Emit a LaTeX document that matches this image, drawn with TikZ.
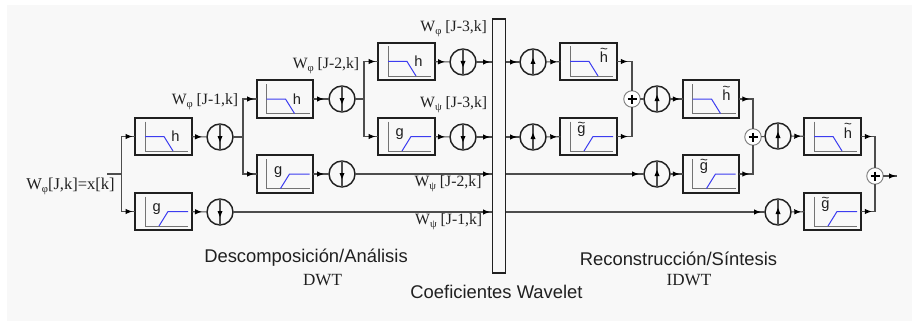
\documentclass[tikz,border=0pt]{standalone}
\usepackage{fontspec}
\setmainfont{Liberation Serif}
\setsansfont{Liberation Sans}
\usetikzlibrary{arrows.meta,decorations.markings}
\definecolor{panel}{HTML}{F8F8F8}
\definecolor{filt}{HTML}{3C3CF0}
\definecolor{ink}{HTML}{202020}
\tikzset{
  filterbox/.style={draw=ink,line width=1.3pt,minimum width=56.5*0.75pt,minimum height=37.5*0.75pt,inner sep=0pt,outer sep=0pt,rectangle},
  sampler/.style={draw=ink,line width=1.1pt,circle,minimum size=26*0.75pt,inner sep=0pt,outer sep=0pt},
  adder/.style={draw=gray,line width=0.7pt,circle,fill=white,minimum size=16.5*0.75pt,inner sep=0pt,outer sep=0pt},
  conn/.style={draw=ink!80!white,line width=0.8pt},
  gaparrow/.style={conn,postaction={decorate},decoration={markings,mark=at position -#1*0.75pt with {\arrow{Latex[length=7*0.75pt,width=5.5*0.75pt,black]}}}},
  gaparrow/.default=4,
  startarrow/.style={conn,postaction={decorate},decoration={markings,mark=at position #1*0.75pt with {\arrow{Latex[length=7*0.75pt,width=5.5*0.75pt,black]}}}},
  axisline/.style={draw=gray!90!black,line width=0.75pt},
  bluepath/.style={draw=filt,line width=0.75pt},
  wlabel/.style={font=\fontsize{11.8}{12}\selectfont,inner sep=0pt,text=ink},
  titlelabel/.style={font=\sffamily\fontsize{13.8}{14}\selectfont,inner sep=0pt,text=ink},
  dwtlabel/.style={font=\fontsize{12.8}{13}\selectfont,inner sep=0pt,text=ink},
  filtlabel/.style={font=\sffamily\fontsize{11}{12}\selectfont,inner sep=0pt,text=ink,anchor=base}
}
% #1 node name, #2 centre x, #3 centre y, #4 letter x offset, #5 letter baseline offset, #6 letter
\newcommand{\lowf}[6]{%
  \node[filterbox] (#1) at (#2,#3) {};
  \draw[axisline] (#2-18.5,#3-15) -- (#2-18.5,#3+14.5) -- (#2+24.5,#3+14.5);
  \draw[bluepath] (#2-18.5,#3) -- (#2+0.5,#3) -- (#2+9.5,#3+14.5);
  \node[filtlabel] (#1l) at (#2+#4,#3+#5) {#6};
}
\newcommand{\highf}[6]{%
  \node[filterbox] (#1) at (#2,#3) {};
  \draw[axisline] (#2-18.5,#3-15) -- (#2-18.5,#3+14.5) -- (#2+24.5,#3+14.5);
  \draw[bluepath] (#2-4.5,#3+14.5) -- (#2+4.5,#3) -- (#2+24.5,#3);
  \node[filtlabel] (#1l) at (#2+#4,#3+#5) {#6};
}
\newcommand{\dnc}[3]{%
  \node[sampler] (#1) at (#2,#3) {};
  \draw[conn] (#1.north) -- (#1.south);
  \fill[black] (#2-2.5,#3-1) -- (#2+2.5,#3-1) -- (#2,#3+5) -- cycle;
}
\newcommand{\upc}[3]{%
  \node[sampler] (#1) at (#2,#3) {};
  \draw[conn] (#1.north) -- (#1.south);
  \fill[black] (#2-2.5,#3+2) -- (#2+2.5,#3+2) -- (#2,#3-4) -- cycle;
}
\newcommand{\addc}[3]{%
  \node[adder] (#1) at (#2,#3) {};
  \draw[black,line width=1pt] (#2-4.5,#3) -- (#2+4.5,#3) (#2,#3-4.5) -- (#2,#3+4.5);
}
\newcommand{\WP}[1]{W\raisebox{-2.4pt}{\fontsize{8}{8}\selectfont φ}#1}
\newcommand{\WS}[1]{W\raisebox{-2.4pt}{\fontsize{8}{8}\selectfont ψ}#1}
\newcommand{\tld}[2]{\setbox0=\hbox{#2}\rlap{\hbox to \wd0{\hss\raisebox{#1}{\fontsize{10}{10}\selectfont\char"007E}\hss}}\box0}
\begin{document}
\begin{tikzpicture}[x=0.75pt,y=-0.75pt]
\useasboundingbox (0,0) rectangle (912,321);
\fill[white] (0,0) rectangle (912,321);
\fill[panel] (7,5) rectangle (912,321);

% analysis
\lowf{ha}{163.5}{136.5}{12}{5}{h}
\highf{ga}{163.5}{211.5}{-6.8}{0}{g}
\dnc{da}{220}{137}
\dnc{db}{220}{212}
\lowf{hb}{285}{99}{12}{5}{h}
\highf{gb}{285}{174}{-6.8}{0}{g}
\dnc{dc}{342}{99}
\dnc{dd}{342}{174}
\lowf{hc}{406.5}{61.5}{12}{5}{h}
\highf{gc}{406.5}{136.5}{-6.8}{0}{g}
\dnc{de}{463}{62}
\dnc{df}{463}{137}

% centre
\node[draw=ink,line width=0.8pt,fill=panel,minimum width=13.5*0.75pt,minimum height=254*0.75pt,inner sep=0pt,outer sep=0pt] (bank) at (499,146) {};

% synthesis
\upc{ua}{533}{62}
\upc{ub}{533}{137}
\lowf{hd}{588.5}{61.5}{15.5}{1.5}{\tld{7pt}{h}}
\highf{gd}{588.5}{136.5}{-7}{-3.5}{\tld{4.4pt}{g}}
\addc{pa}{632}{99}
\upc{uc}{657}{99}
\upc{ud}{657}{174}
\lowf{he}{711}{99}{15.5}{1.5}{\tld{7pt}{h}}
\highf{ge}{711}{174}{-7}{-3.5}{\tld{4.4pt}{g}}
\addc{pb}{753}{137}
\upc{ue}{778}{136}
\upc{uf}{778}{212}
\lowf{hf}{832.5}{136.5}{15.5}{1.5}{\tld{7pt}{h}}
\highf{gf}{832.5}{211.5}{-7}{-3.5}{\tld{4.4pt}{g}}
\addc{pc}{875}{176}

% named junctions
\coordinate (in) at (107,174);
\coordinate (ja) at (121.5,174);
\coordinate (jb) at (243,137);
\coordinate (jc) at (364,99);
\coordinate (out) at (897,176);
\coordinate (bw) at (492,212);
\coordinate (be) at (505.5,212);
\coordinate (cw) at (492,174);
\coordinate (ce) at (505.5,174);
\coordinate (dw) at (492,62);
\coordinate (de2) at (505.5,62);
\coordinate (ew) at (492,137);
\coordinate (ee) at (505.5,137);

% connectors
\draw[conn] (in) -- (ja);
\draw[gaparrow=2.7] (ja) |- (ha.west);
\draw[gaparrow=2.7] (ja) |- (ga.west);
\draw[gaparrow=5] (ha) -- (da);
\draw[gaparrow=5] (ga) -- (db);
\draw[conn] (da) -- (jb);
\draw[gaparrow=2.7] (jb) |- (hb.west);
\draw[gaparrow=2.7] (jb) |- (gb.west);
\draw[gaparrow=5] (hb) -- (dc);
\draw[conn] (dc) -- (jc);
\draw[gaparrow=2.7] (jc) |- (hc.west);
\draw[gaparrow=2.7] (jc) |- (gc.west);
\draw[gaparrow=5] (hc) -- (de);
\draw[gaparrow=5] (gc) -- (df);
\draw[gaparrow=5] (gb) -- (dd);
\draw[gaparrow=2] (de) -- (dw);
\draw[gaparrow=2] (df) -- (ew);
\draw[gaparrow=2] (dd) -- (cw);
\draw[gaparrow=2] (db) -- (bw);
\draw[gaparrow=3] (de2) -- (ua);
\draw[gaparrow=3] (ee) -- (ub);
\draw[gaparrow=5] (ce) -- (ud);
\draw[gaparrow=4] (be) -- (uf);
\draw[gaparrow=3] (ua) -- (hd);
\draw[gaparrow=3] (ub) -- (gd);
\draw[gaparrow=3] (uc) -- (he);
\draw[gaparrow=3] (ud) -- (ge);
\draw[gaparrow=3] (ue) -- (hf);
\draw[gaparrow=3] (uf) -- (gf);
\draw[conn] (pa) -- (uc);
\draw[conn] (pb) -- (ue);
\draw[gaparrow=1] (pc) -- (out);
\draw[startarrow=11] (hd.east) -| (pa);
\draw[startarrow=11] (gd.east) -| (pa);
\draw[startarrow=10] (he.east) -| (pb);
\draw[startarrow=10] (ge.east) -| (pb);
\draw[startarrow=11] (hf.east) -| (pc);
\draw[startarrow=11] (gf.east) -| (pc);

% labels
\node[wlabel,anchor=center] (t1) at (70.5,186) {\fontsize{12.4}{13}\selectfont\WP{[J,k]=x[k]}};
\node[wlabel,anchor=center] (t2) at (205,102) {\WP{ [J-1,k]}};
\node[wlabel,anchor=center] (t3) at (326,66) {\WP{ [J-2,k]}};
\node[wlabel,anchor=center] (t4) at (453.7,29) {\WP{ [J-3,k]}};
\node[wlabel,anchor=center] (t5) at (453.7,105) {\WS{ [J-3,k]}};
\node[wlabel,anchor=center] (t6) at (448,184) {\WS{ [J-2,k]}};
\node[wlabel,anchor=center] (t7) at (448.7,222) {\WS{ [J-1,k]}};
\node[titlelabel] (t8) at (306,258) {Descomposición/Análisis};
\node[dwtlabel] (t9) at (322.5,280) {DWT};
\node[titlelabel] (t10) at (678.5,259) {Reconstrucción/Síntesis};
\node[dwtlabel] (t11) at (689,280) {IDWT};
\node[titlelabel] (t12) at (496.5,292) {Coeficientes Wavelet};
\end{tikzpicture}
\end{document}
